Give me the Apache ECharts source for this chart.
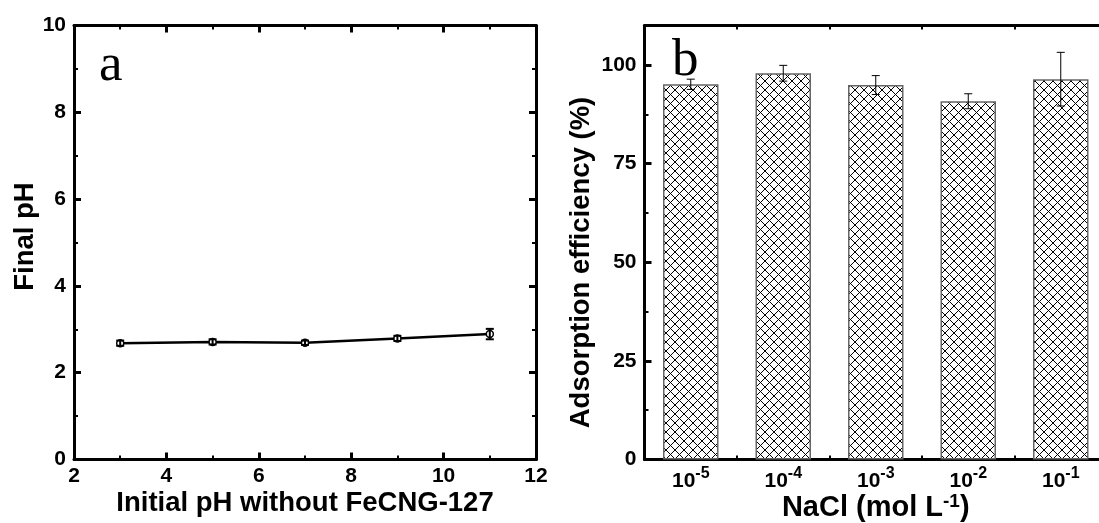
<!DOCTYPE html>
<html>
<head>
<meta charset="utf-8">
<script src="https://cdn.jsdelivr.net/npm/echarts@6/dist/echarts.min.js"></script>
<style>
  html, body { margin: 0; padding: 0; background: #fff; }
  #chart { width: 1099px; height: 523px; }
</style>
</head>
<body>
<div id="chart"></div>
<script>
// ---- Panel (a) data ----
const initialPH = [3, 5, 7, 9, 11];
const finalPH = [2.68, 2.71, 2.69, 2.79, 2.89];
const finalPHErr = [0.06, 0.06, 0.05, 0.06, 0.12];

// ---- Panel (b) data ----
const naclExponents = ['-5', '-4', '-3', '-2', '-1'];
const adsorption = [95.1, 97.9, 94.9, 90.8, 96.4];
const adsorptionErr = [1.3, 2.0, 2.4, 1.9, 6.8];
const adsorptionTicks = [0, 25, 50, 75, 100];
const adsorptionMinorTicks = [12.5, 37.5, 62.5, 87.5];

// font detection for a condensed title face
function hasFont(name) {
  const g = document.createElement('canvas').getContext('2d');
  const t = 'Initial pH without FeCNG-127';
  g.font = 'bold 30px monospace';
  const a = g.measureText(t).width;
  g.font = 'bold 30px "' + name + '", monospace';
  const b = g.measureText(t).width;
  return Math.abs(a - b) > 0.5;
}
const narrow = hasFont('Liberation Sans Narrow');
const TITLE_FONT = narrow ? '"Liberation Sans Narrow", "Liberation Sans", Arial, sans-serif' : '"Liberation Sans", Arial, sans-serif';
const TITLE_SIZE = narrow ? 33 : 27.5;
const BASE_FONT = '"Liberation Sans", Arial, sans-serif';

function makeHatch(size) {
  const c = document.createElement('canvas');
  c.width = size; c.height = size;
  const g = c.getContext('2d');
  g.fillStyle = '#fff';
  g.fillRect(0, 0, size, size);
  g.strokeStyle = '#000';
  g.lineWidth = 1;
  g.beginPath();
  g.moveTo(-1, -1); g.lineTo(size + 1, size + 1);
  g.moveTo(size + 1, -1); g.lineTo(-1, size + 1);
  g.stroke();
  return c;
}

const tickLabel = { fontSize: 21, fontWeight: 'bold', fontFamily: BASE_FONT, color: '#000' };
const lineStyle3 = { color: '#000', width: 3 };

function valueAxis(opts) {
  return Object.assign({
    type: 'value',
    axisLine: { show: true, onZero: false, lineStyle: lineStyle3 },
    axisTick: { show: true, inside: true, length: 7, lineStyle: { color: '#000', width: 3 } },
    minorTick: { show: true, splitNumber: 2, length: 4, lineStyle: { color: '#000', width: 2 } },
    splitLine: { show: false },
    minorSplitLine: { show: false },
    nameMoveOverlap: false,
    axisLabel: Object.assign({ show: true }, tickLabel)
  }, opts);
}

function errRender(capHalf, lw) {
  return function (params, api) {
    const x = api.value(0), y = api.value(1), e = api.value(2);
    const top = api.coord([x, y + e]);
    const bot = api.coord([x, y - e]);
    const st = { stroke: '#000', lineWidth: lw };
    return {
      type: 'group',
      children: [
        { type: 'line', shape: { x1: top[0], y1: top[1], x2: bot[0], y2: bot[1] }, style: st },
        { type: 'line', shape: { x1: top[0] - capHalf, y1: top[1], x2: top[0] + capHalf, y2: top[1] }, style: st },
        { type: 'line', shape: { x1: bot[0] - capHalf, y1: bot[1], x2: bot[0] + capHalf, y2: bot[1] }, style: st }
      ]
    };
  };
}

const chart = echarts.init(document.getElementById('chart'));

const supRich = {
  b: { fontSize: 21, fontWeight: 'bold', fontFamily: BASE_FONT, color: '#000', lineHeight: 26, verticalAlign: 'bottom' },
  sup: { fontSize: 16, fontWeight: 'bold', fontFamily: BASE_FONT, color: '#000', lineHeight: 16, verticalAlign: 'top' }
};

const option = {
  animation: false,
  backgroundColor: '#fff',
  grid: [
    { left: 74, top: 25.5, width: 462, height: 434, outerBoundsMode: 'none', containLabel: false },
    { left: 644.5, top: 25.5, width: 462.5, height: 434, outerBoundsMode: 'none', containLabel: false }
  ],
  xAxis: [
    valueAxis({
      gridIndex: 0, position: 'bottom', min: 2, max: 12, interval: 2,
      axisLabel: Object.assign({ margin: 6 }, tickLabel),
      name: 'Initial pH without FeCNG-127', nameLocation: 'middle', nameGap: 30,
      nameTextStyle: { fontSize: TITLE_SIZE, fontWeight: 'bold', fontFamily: TITLE_FONT, color: '#000' }
    }),
    valueAxis({ gridIndex: 0, position: 'top', min: 2, max: 12, interval: 2, axisLabel: { show: false } }),
    {
      gridIndex: 1, type: 'category', position: 'bottom', data: naclExponents,
      axisLine: { show: true, onZero: false, lineStyle: lineStyle3 },
      axisTick: { show: true, inside: true, length: 4, lineStyle: { color: '#000', width: 2 } },
      axisLabel: {
        interval: 0,
        margin: 6,
        formatter: function (v) { return '{b|10}{sup|' + v + '}'; },
        rich: supRich
      },
      splitLine: { show: false },
      name: '{t|NaCl (mol L}{s|-1}{t|)}', nameLocation: 'middle', nameGap: 33,
      nameMoveOverlap: false,
      nameTextStyle: {
        rich: {
          t: { fontSize: 29, fontWeight: 'bold', fontFamily: BASE_FONT, color: '#000', lineHeight: 30, verticalAlign: 'bottom' },
          s: { fontSize: 19, fontWeight: 'bold', fontFamily: BASE_FONT, color: '#000', lineHeight: 19, verticalAlign: 'top' }
        }
      }
    },
    {
      gridIndex: 1, type: 'category', position: 'top', data: naclExponents,
      axisLine: { show: true, onZero: false, lineStyle: lineStyle3 },
      axisTick: { show: true, inside: true, length: 4, lineStyle: { color: '#000', width: 2 } },
      axisLabel: { show: false },
      splitLine: { show: false }
    }
  ],
  yAxis: [
    valueAxis({
      gridIndex: 0, position: 'left', min: 0, max: 10, interval: 2,
      axisLabel: Object.assign({ margin: 8 }, tickLabel),
      name: 'Final pH', nameLocation: 'middle', nameGap: 35,
      nameTextStyle: { fontSize: TITLE_SIZE, fontWeight: 'bold', fontFamily: TITLE_FONT, color: '#000', padding: [0, 0, 0, 12] }
    }),
    valueAxis({ gridIndex: 0, position: 'right', min: 0, max: 10, interval: 2, axisLabel: { show: false } }),
    {
      gridIndex: 1, type: 'value', position: 'left', min: 0, max: 110,
      axisLine: { show: true, onZero: false, lineStyle: lineStyle3 },
      axisTick: { show: true, inside: true, length: 7, customValues: adsorptionTicks, lineStyle: { color: '#000', width: 3 } },
      axisLabel: Object.assign({ margin: 8, customValues: adsorptionTicks }, tickLabel),
      splitLine: { show: false },
      name: 'Adsorption efficiency (%)', nameLocation: 'middle', nameGap: 49,
      nameMoveOverlap: false,
      nameTextStyle: { fontSize: TITLE_SIZE, fontWeight: 'bold', fontFamily: TITLE_FONT, color: '#000', padding: [0, 40, 0, 0] }
    },
    {
      gridIndex: 1, type: 'value', position: 'left', min: 0, max: 110,
      axisLine: { show: false },
      axisTick: { show: true, inside: true, length: 4, customValues: adsorptionMinorTicks, lineStyle: { color: '#000', width: 2 } },
      axisLabel: { show: false, customValues: adsorptionMinorTicks },
      splitLine: { show: false }
    },
    {
      gridIndex: 1, type: 'value', position: 'right', min: 0, max: 110,
      axisLine: { show: true, onZero: false, lineStyle: lineStyle3 },
      axisTick: { show: true, inside: true, length: 7, customValues: adsorptionTicks, lineStyle: { color: '#000', width: 3 } },
      axisLabel: { show: false, customValues: adsorptionTicks },
      splitLine: { show: false }
    }
  ],
  graphic: [
    { type: 'text', left: 99, top: 40, silent: true,
      style: { text: 'a', font: '53px "Liberation Serif", "Times New Roman", serif', fill: '#000' } },
    { type: 'text', left: 672, top: 35, silent: true,
      style: { text: 'b', font: '53px "Liberation Serif", "Times New Roman", serif', fill: '#000' } }
  ],
  series: [
    {
      type: 'bar', xAxisIndex: 2, yAxisIndex: 2,
      data: adsorption,
      barWidth: '60%',
      itemStyle: {
        color: { image: makeHatch(9), repeat: 'repeat' },
        borderColor: '#666', borderWidth: 1.5
      },
      z: 2
    },
    {
      type: 'custom', xAxisIndex: 2, yAxisIndex: 2,
      renderItem: errRender(4, 1),
      data: adsorption.map((v, i) => [i, v, adsorptionErr[i]]),
      z: 5
    },
    {
      type: 'line', xAxisIndex: 0, yAxisIndex: 0,
      data: initialPH.map((x, i) => [x, finalPH[i]]),
      symbol: 'circle', symbolSize: 7,
      lineStyle: { color: '#000', width: 2.5 },
      itemStyle: { color: '#fff', borderColor: '#000', borderWidth: 1.5 },
      z: 3
    },
    {
      type: 'custom', xAxisIndex: 0, yAxisIndex: 0,
      renderItem: errRender(4, 2),
      data: initialPH.map((x, i) => [x, finalPH[i], finalPHErr[i]]),
      z: 4
    }
  ]
};
chart.setOption(option);
</script>
</body>
</html>
